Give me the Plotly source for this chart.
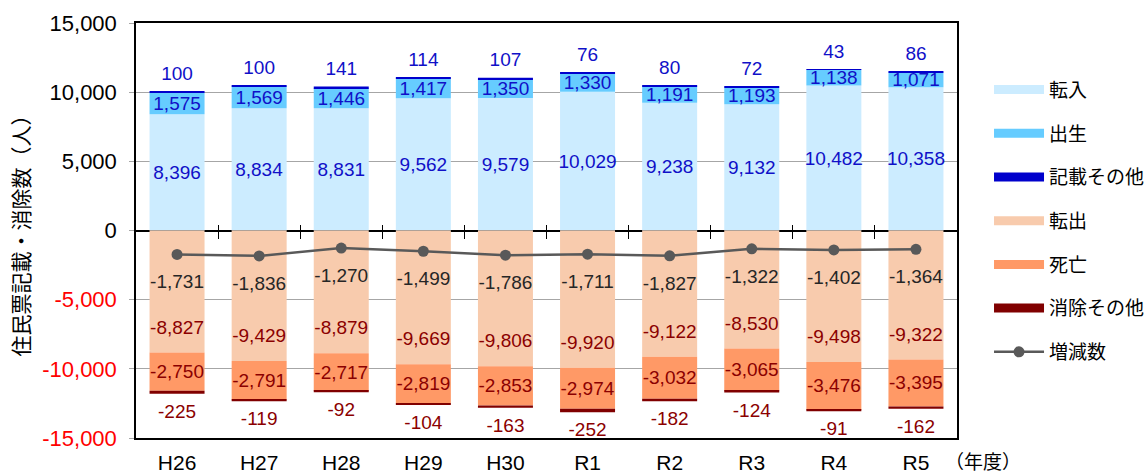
import plotly.graph_objects as go

# ---- data ----
years = ["H26", "H27", "H28", "H29", "H30", "R1", "R2", "R3", "R4", "R5"]
tennyu = [8396, 8834, 8831, 9562, 9579, 10029, 9238, 9132, 10482, 10358]        # 転入
shussei = [1575, 1569, 1446, 1417, 1350, 1330, 1191, 1193, 1138, 1071]          # 出生
kisai_other = [100, 100, 141, 114, 107, 76, 80, 72, 43, 86]                     # 記載その他
tenshutsu = [-8827, -9429, -8879, -9669, -9806, -9920, -9122, -8530, -9498, -9322]  # 転出
shibou = [-2750, -2791, -2717, -2819, -2853, -2974, -3032, -3065, -3476, -3395]     # 死亡
shojo_other = [-225, -119, -92, -104, -163, -252, -182, -124, -91, -162]            # 消除その他
zougen = [-1731, -1836, -1270, -1499, -1786, -1711, -1827, -1322, -1402, -1364]     # 増減数
ytick_vals = [15000, 10000, 5000, 0, -5000, -10000, -15000]

# ---- styles ----
FONT = "Liberation Sans, Arial, Noto Sans CJK JP, sans-serif"
C_TENNYU = "#CCECFF"
C_SHUSSEI = "#66CCFF"
C_KISAI = "#0000CC"
C_TENSHUTSU = "#F8CBAD"
C_SHIBOU = "#FF9966"
C_SHOJO = "#800000"
C_LINE = "#595959"
C_POS_TXT = "#1010C8"
C_NEG_TXT = "#8B0000"
LBL = 19

def fmt(v):
    return f"{v:,}"

fig = go.Figure()

legend_items = [
    ("転入", C_TENNYU), ("出生", C_SHUSSEI), ("記載その他", C_KISAI),
    ("転出", C_TENSHUTSU), ("死亡", C_SHIBOU), ("消除その他", C_SHOJO),
]
for name, col in legend_items:
    fig.add_trace(go.Scatter(x=[years[0]], y=[None], mode="lines", name=name,
                             legendgroup=name, line=dict(color=col, width=9),
                             hoverinfo="skip"))

def bar(vals, col, text=None, tcol=None):
    return go.Bar(x=years, y=vals, marker=dict(color=col, line=dict(width=0)),
                  showlegend=False, hoverinfo="skip",
                  text=[fmt(v) for v in vals] if text else None,
                  textposition="inside" if text else "none",
                  insidetextanchor="middle", constraintext="none",
                  textfont=dict(color=tcol, size=LBL, family=FONT),
                  textangle=0)

fig.add_trace(bar(tennyu, C_TENNYU, True, C_POS_TXT))
fig.add_trace(bar(shussei, C_SHUSSEI, True, C_POS_TXT))
fig.add_trace(bar(kisai_other, C_KISAI))
fig.add_trace(bar(tenshutsu, C_TENSHUTSU))
fig.add_trace(bar(shibou, C_SHIBOU, True, C_NEG_TXT))
fig.add_trace(bar(shojo_other, C_SHOJO))

pos_total = [a + b + c for a, b, c in zip(tennyu, shussei, kisai_other)]
neg_total = [a + b + c for a, b, c in zip(tenshutsu, shibou, shojo_other)]

def label_trace(y, text, pos, size, col):
    return go.Scatter(x=years, y=y, mode="markers+text", text=text,
                      textposition=pos, marker=dict(size=size, opacity=0),
                      textfont=dict(color=col, size=LBL, family=FONT),
                      showlegend=False, hoverinfo="skip", cliponaxis=False)

fig.add_trace(label_trace(pos_total, [fmt(v) for v in kisai_other], "top center", 9, C_POS_TXT))
fig.add_trace(label_trace(tenshutsu, [fmt(v) for v in tenshutsu], "top center", 21, C_NEG_TXT))
fig.add_trace(label_trace(neg_total, [fmt(v) for v in shojo_other], "bottom center", 14, C_NEG_TXT))

fig.add_trace(go.Scatter(x=years, y=zougen, mode="lines+markers", name="増減数",
                         legendgroup="増減数",
                         line=dict(color=C_LINE, width=2.5),
                         marker=dict(color=C_LINE, size=11), hoverinfo="skip"))
fig.add_trace(label_trace(zougen, [fmt(v) for v in zougen], "bottom center", 30, "#262626"))

# boundary ticks crossing the zero line
fig.add_trace(go.Scatter(x=[None], y=[None], xaxis="x2", showlegend=False, hoverinfo="skip"))

ticktext = []
for v in ytick_vals:
    if v < 0:
        ticktext.append(f"<span style='color:#FF0000'>{fmt(v)}</span>")
    else:
        ticktext.append(fmt(v))

PLOT_H = 475 - 23 - 37
fig.update_layout(
    width=1145, height=475,
    margin=dict(l=136, r=188, t=23, b=37, autoexpand=False),
    paper_bgcolor="white", plot_bgcolor="white",
    barmode="relative", bargap=0.33,
    font=dict(family=FONT, color="black"),
    xaxis=dict(type="category", range=[-0.5, 9.5], showline=True, mirror=True,
               linecolor="black", linewidth=1.5, ticks="", showgrid=False,
               tickfont=dict(size=21, color="black"), ticklabelstandoff=5,
               automargin=False),
    xaxis2=dict(overlaying="x", anchor="free", position=0.5 + 7 / PLOT_H,
                range=[-0.5, 9.5], tickvals=[i + 0.5 for i in range(9)],
                ticks="outside", ticklen=14, tickcolor="black", tickwidth=1,
                showticklabels=False, showgrid=False, zeroline=False, showline=False,
                automargin=False),
    yaxis=dict(range=[-15000, 15000], tickvals=ytick_vals, ticktext=ticktext,
               showgrid=True, gridcolor="#A6A6A6", gridwidth=1,
               zeroline=True, zerolinecolor="black", zerolinewidth=1.5,
               showline=True, mirror=True, linecolor="black", linewidth=1.5,
               ticks="outside", ticklen=5, tickcolor="#A6A6A6",
               tickfont=dict(size=22, color="black"), ticklabelstandoff=8,
               title=dict(text="住民票記載・消除数（人）", font=dict(size=21),
                          standoff=7),
               automargin=False),
    legend=dict(x=1.039, y=0.885, xanchor="left", yanchor="top",
                font=dict(size=19), itemwidth=50, tracegroupgap=16,
                traceorder="grouped", bgcolor="rgba(0,0,0,0)"),
    annotations=[dict(text="（年度）", xref="paper", yref="paper",
                      x=0.983, y=-0.06, xanchor="left", yanchor="middle",
                      showarrow=False, font=dict(size=19, color="black"))],
)

fig.write_html("out.html", config={"displayModeBar": False},
               post_script="document.body.style.margin='0';")
